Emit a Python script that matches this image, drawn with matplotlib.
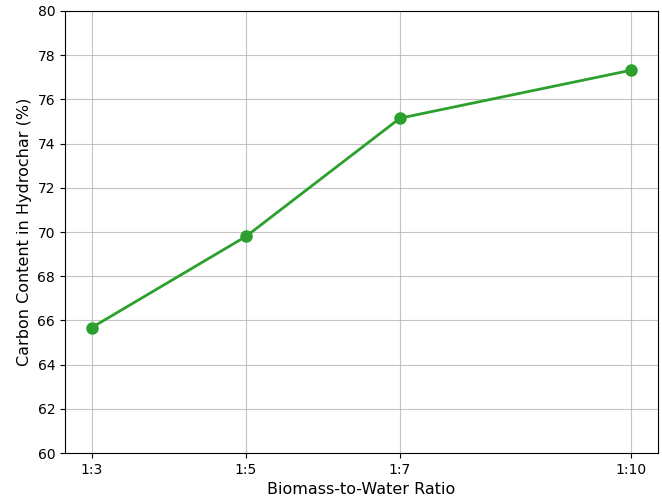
import matplotlib
matplotlib.use("Agg")
import matplotlib.pyplot as plt

# biomass-to-water ratio (1:x) and carbon content
ratios = [3, 5, 7, 10]
ratio_labels = ['1:3', '1:5', '1:7', '1:10']
carbon = [65.68, 69.80, 75.15, 77.32]

fig, ax = plt.subplots(figsize=(6.62, 4.99), dpi=100)
fig.subplots_adjust(left=0.098, right=0.994, top=0.978, bottom=0.092)

ax.plot(ratios, carbon, marker='o', color='#2ca02c', linewidth=2, markersize=8)
ax.set_xticks(ratios)
ax.set_xticklabels(ratio_labels)
ax.set_ylim(60, 80)
ax.set_yticks(range(60, 81, 2))
ax.set_xlabel('Biomass-to-Water Ratio', fontsize=11.5)
ax.set_ylabel('Carbon Content in Hydrochar (%)', fontsize=11.5)
ax.grid(True, alpha=0.75)

fig.savefig('out.png', dpi=100)
